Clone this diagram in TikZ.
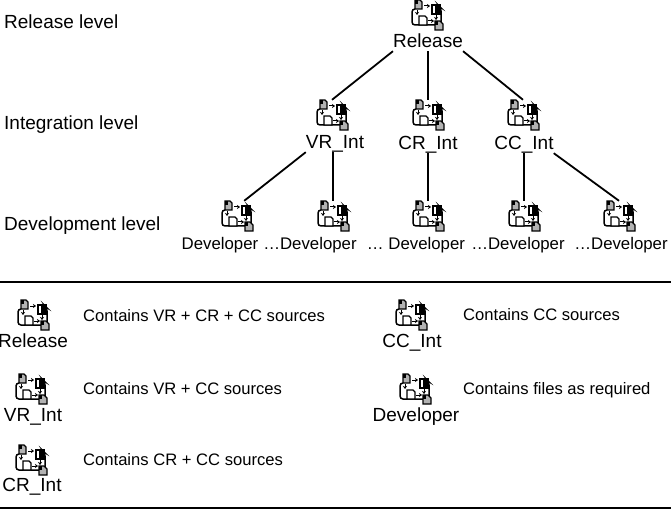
\documentclass[tikz,border=0pt]{standalone}
\usepackage{fontspec}
\setmainfont{Liberation Sans}
\usepackage{xcolor}
\usetikzlibrary{arrows.meta, positioning, calc}
\tikzset{
  lvl/.style={anchor=base west, inner sep=0pt, font=\fontsize{19}{21}\selectfont},
  cmt/.style={anchor=base west, inner sep=0pt, font=\fontsize{16.6}{18}\selectfont},
  big/.style={anchor=base, inner sep=0pt, text height=13pt, text depth=3pt, font=\fontsize{19}{21}\selectfont},
  dev/.style={anchor=base, inner sep=0pt, font=\fontsize{16.8}{18}\selectfont},
  icn/.style={minimum width=14pt, minimum height=30pt, inner sep=0pt},
  doc/.style={draw=black, line width=1.2pt, fill=white},
  flw/.style={-{Stealth[length=3pt,width=4pt]}, line width=1pt},
  arc/.style={line width=1.8pt},
  rul/.style={line width=1.6pt},
  stream/.pic={
    \draw[line width=1.5pt, rounded corners=3pt] (-12,-6) -- (-15,-6) -- (-15,10) -- (8,10);
    \draw[line width=1.5pt, rounded corners=3pt] (6,-10) -- (11,-10) -- (14,-7) -- (14,7);
    % sheets
    \filldraw[doc, fill=gray!60] (-12,-15) -- (-7,-15) -- (-5,-13) -- (-5,-6) -- (-12,-6) -- cycle;
    \fill (-12,-15) rectangle (-9,-11);
    \filldraw[doc] (5,-10) rectangle (13,-1);
    \fill (8,-10) rectangle (13,-1);
    \filldraw[doc] (-8,1) -- (-2,1) -- (0,3) -- (0,10) -- (-8,10) -- cycle;
    \filldraw[doc, fill=gray!60] (8,6) -- (13,6) -- (16,9) -- (16,15) -- (8,15) -- cycle;
    \fill (8,6) rectangle (11,10);
    % flow
    \draw[flw] (-3,-9) -- (3,-9);
    \draw[flw] (9,-1) -- (9,5);
    \draw[flw] (1,6) -- (7,6);
    \draw[flw] (-10,-5) -- (-10,0);
  }
}
\begin{document}
\begin{tikzpicture}[x=1pt, y=-1pt]
  \useasboundingbox (0,0) rectangle (671,510);
  % levels
  \node[lvl] (l1) at (4,29) {Release level};
  \node[lvl] (l2) at (4,130) {Integration level};
  \node[lvl] (l3) at (4,231) {Development level};
  % tree
  \foreach \n/\x/\y in {rel/427/15, vr/332/115, cr/428/115, cc/523/115} {
    \node[icn] (\n-i) at (\x,\y) {};
    \pic at (\n-i) {stream};
  }
  \node[big] (rel) at (428,48) {Release};
  \node[big] (vr) at (335,149) {VR\_Int};
  \node[big] (cr) at (428,150) {CR\_Int};
  \node[big] (cc) at (524,150) {CC\_Int};
  \foreach \n/\x/\t in {d1/220/Developer, d2/310/{…Developer}, d3/416/{… Developer}, d4/518/{…Developer}, d5/621/{…Developer}} {
    \node[dev] (\n) at (\x,250) {\t};
  }
  \foreach \n/\x in {a1/237, a2/333, a3/428, a4/524, a5/619} {
    \node[icn] (\n-i) at (\x,216) {};
    \pic at (\n-i) {stream};
  }
  \draw[arc] (rel.south west) -- (vr-i.north);
  \draw[arc] (rel.south) -- (cr-i.north);
  \draw[arc] (rel.south east) -- (cc-i.north);
  \draw[arc] (vr.south west) -- (a1-i.north east);
  \draw[arc] (a2-i.north |- vr.south) -- (a2-i.north);
  \draw[arc] (cr.south) -- (a3-i.north);
  \draw[arc] (cc.south) -- (a4-i.north);
  \draw[arc] (cc.south east) -- (a5-i.north);
  % key
  \coordinate (r1a) at (0,282);
  \coordinate (r1b) at (671,282);
  \coordinate (r2a) at (0,508);
  \coordinate (r2b) at (671,508);
  \draw[rul] (r1a) -- (r1b);
  \draw[rul] (r2a) -- (r2b);
  \foreach \n/\x/\y/\lx/\ly/\cx/\cy/\t/\c in {
      kr/33/315/33/347/83/321/Release/{Contains VR + CR + CC sources},
      kv/31/389/33/421/83/394/VR\_Int/{Contains VR + CC sources},
      kc/31/460/32/491/83/465/CR\_Int/{Contains CR + CC sources},
      kn/411/315/412/347/463/320/CC\_Int/{Contains CC sources},
      kd/415/389/416/421/463/394/Developer/{Contains files as required}} {
    \node[icn] (\n-i) at (\x,\y) {};
    \pic at (\n-i) {stream};
    \node[big] (\n) at (\lx,\ly) {\t};
    \node[cmt] (\n-c) at (\cx,\cy) {\c};
  }
\end{tikzpicture}
\end{document}
